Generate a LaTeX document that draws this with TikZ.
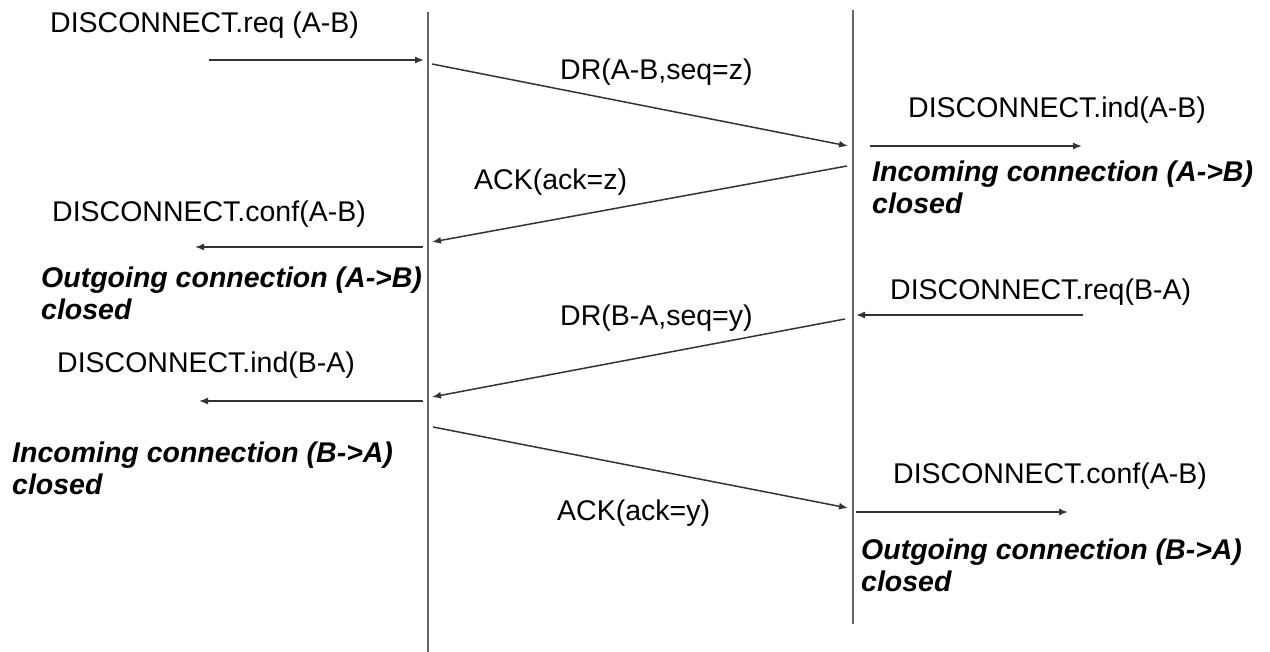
\documentclass[tikz,border=0pt]{standalone}
\usepackage{fontspec}
\setmainfont{Liberation Sans}
\usetikzlibrary{arrows.meta}
\tikzset{
  lbl/.style={anchor=base west, inner sep=0pt, font=\fontsize{28.5}{30}\selectfont},
  note/.style={anchor=base west, inner sep=0pt, align=left, font=\fontsize{28.5}{32}\selectfont\bfseries\itshape},
  life/.style={draw=black!60, line width=2pt},
  msg/.style={draw=black!80, line width=1.5pt, -{Latex[length=9pt,width=7pt]}}
}
\begin{document}
\begin{tikzpicture}[x=1pt,y=-1pt]
\useasboundingbox (0,0) rectangle (1270,652);
% lifelines
\coordinate (At) at (428,12);  \coordinate (Ab) at (428,652);
\coordinate (Bt) at (853,10);  \coordinate (Bb) at (853,624);
\draw[life] (At) -- (Ab);
\draw[life] (Bt) -- (Bb);
% endpoints
\coordinate (r1s) at (209,60);  \coordinate (r1e) at (424,60);
\coordinate (d1s) at (432,64);  \coordinate (d1e) at (848,146);
\coordinate (i1s) at (870,146); \coordinate (i1e) at (1082,146);
\coordinate (a1s) at (847,166); \coordinate (a1e) at (432,242);
\coordinate (c1s) at (423,247); \coordinate (c1e) at (195,247);
\coordinate (r2s) at (1083,315);\coordinate (r2e) at (856,315);
\coordinate (d2s) at (845,319); \coordinate (d2e) at (432,397);
\coordinate (i2s) at (423,401); \coordinate (i2e) at (199,401);
\coordinate (a2s) at (433,427); \coordinate (a2e) at (848,508);
\coordinate (c2s) at (856,512); \coordinate (c2e) at (1068,512);
\draw[msg] (r1s) -- (r1e);
\draw[msg] (d1s) -- (d1e);
\draw[msg] (i1s) -- (i1e);
\draw[msg] (a1s) -- (a1e);
\draw[msg] (c1s) -- (c1e);
\draw[msg] (r2s) -- (r2e);
\draw[msg] (d2s) -- (d2e);
\draw[msg] (i2s) -- (i2e);
\draw[msg] (a2s) -- (a2e);
\draw[msg] (c2s) -- (c2e);
% labels
\node[lbl] (t1) at (50,33) {DISCONNECT.req (A-B)};
\node[lbl] (t2) at (560,80) {DR(A-B,seq=z)};
\node[lbl] (t3) at (908,118) {DISCONNECT.ind(A-B)};
\node[note] (n1) at (872,214) {Incoming connection (A->B)\\closed};
\node[lbl] (t4) at (474,190) {ACK(ack=z)};
\node[lbl] (t5) at (52,222) {DISCONNECT.conf(A-B)};
\node[note] (n2) at (41,320) {Outgoing connection (A->B)\\closed};
\node[lbl] (t6) at (890,300) {DISCONNECT.req(B-A)};
\node[lbl] (t7) at (560,326) {DR(B-A,seq=y)};
\node[lbl] (t8) at (57,373) {DISCONNECT.ind(B-A)};
\node[note] (n3) at (12,494) {Incoming connection (B->A)\\closed};
\node[lbl] (t9) at (557,520) {ACK(ack=y)};
\node[lbl] (t10) at (893,483) {DISCONNECT.conf(A-B)};
\node[note] (n4) at (861,591) {Outgoing connection (B->A)\\closed};
\end{tikzpicture}
\end{document}
